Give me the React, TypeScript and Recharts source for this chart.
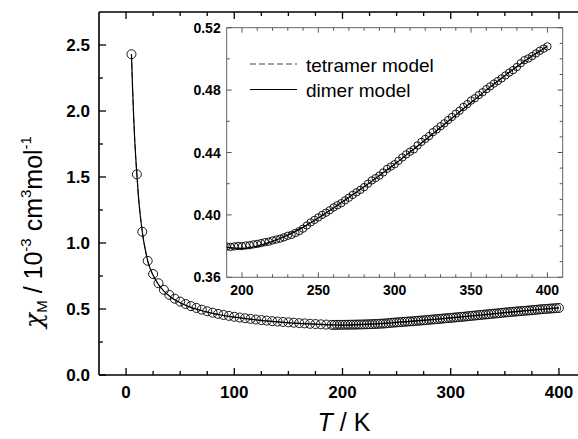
import { ComposedChart, Scatter, Line, XAxis, YAxis, ReferenceLine, ReferenceArea } from "recharts";

// measured chi_M (10^-3 cm3/mol) vs T (K)
const tempK = [
  5, 10, 15, 20, 25, 30, 35, 40, 45, 50, 55, 60, 65, 70, 75, 80, 85, 90, 95, 100,
  105, 110, 115, 120, 125, 130, 135, 140, 145, 150, 155, 160, 165, 170, 175, 180, 185,
  190, 192.5, 195, 197.5, 200, 202.5, 205, 207.5, 210, 212.5, 215, 217.5, 220, 222.5, 225, 227.5,
  230, 232.5, 235, 237.5, 240, 242.5, 245, 247.5, 250, 252.5, 255, 257.5, 260, 262.5, 265, 267.5,
  270, 272.5, 275, 277.5, 280, 282.5, 285, 287.5, 290, 292.5, 295, 297.5, 300, 302.5, 305, 307.5,
  310, 312.5, 315, 317.5, 320, 322.5, 325, 327.5, 330, 332.5, 335, 337.5, 340, 342.5, 345, 347.5,
  350, 352.5, 355, 357.5, 360, 362.5, 365, 367.5, 370, 372.5, 375, 377.5, 380, 382.5, 385, 387.5,
  390, 392.5, 395, 397.5, 400,
];
const chiObs = [
  2.43, 1.52, 1.085, 0.865, 0.765, 0.695, 0.645, 0.607, 0.578, 0.556, 0.538, 0.522, 0.508, 0.495, 0.483, 0.472, 0.463, 0.455, 0.448, 0.441,
  0.435, 0.43, 0.425, 0.42, 0.416, 0.412, 0.408, 0.405, 0.402, 0.399, 0.396, 0.393, 0.391, 0.388, 0.386, 0.384, 0.382,
  0.3797, 0.3795, 0.3798, 0.3801, 0.38, 0.3804, 0.3806, 0.3811, 0.3814, 0.3819, 0.3825, 0.3828, 0.3836, 0.3842, 0.3848, 0.3856,
  0.3866, 0.3872, 0.3884, 0.3896, 0.3912, 0.3932, 0.3952, 0.3968, 0.3984, 0.4, 0.4014, 0.403, 0.4048, 0.4062, 0.4075, 0.4093,
  0.411, 0.4128, 0.4145, 0.416, 0.4178, 0.42, 0.4221, 0.4236, 0.4252, 0.4272, 0.4295, 0.431, 0.4325, 0.4347, 0.4368, 0.4388,
  0.4405, 0.442, 0.4445, 0.4468, 0.4487, 0.4505, 0.453, 0.4548, 0.4568, 0.4587, 0.4608, 0.4628, 0.4649, 0.4668, 0.4692, 0.471,
  0.4733, 0.4748, 0.4768, 0.4786, 0.4806, 0.4824, 0.4842, 0.4858, 0.4875, 0.4894, 0.4912, 0.4928, 0.4948, 0.4972, 0.4992, 0.5003,
  0.5018, 0.5035, 0.5052, 0.5066, 0.508,
];

// model curves
const fitT = [
  5, 6, 7, 8, 9, 10, 12, 14, 16, 18, 20, 25, 30, 35, 40, 50, 60, 70, 80, 90, 100, 120, 140, 160, 180,
  190, 200, 210, 220, 230, 240, 250, 260, 270, 280, 290, 300, 310, 320, 330, 340, 350, 360, 370, 380, 390, 400,
];
const chiDimer = [
  2.43, 2.18, 1.96, 1.78, 1.64, 1.52, 1.3, 1.15, 1.03, 0.94, 0.865, 0.755, 0.685, 0.635, 0.598, 0.547, 0.512, 0.487, 0.467, 0.451, 0.438, 0.418, 0.403, 0.391, 0.383,
  0.3792, 0.3785, 0.38, 0.383, 0.387, 0.392, 0.398, 0.4045, 0.4112, 0.418, 0.4252, 0.4325, 0.4402, 0.448, 0.456, 0.464, 0.472, 0.48, 0.4876, 0.495, 0.5018, 0.508,
];
const chiTetramer = [
  2.43, 2.18, 1.96, 1.78, 1.64, 1.52, 1.3, 1.15, 1.03, 0.94, 0.865, 0.755, 0.685, 0.635, 0.598, 0.547, 0.512, 0.487, 0.467, 0.451, 0.438, 0.418, 0.403, 0.391, 0.383,
  0.3795, 0.3782, 0.3798, 0.3832, 0.3874, 0.3923, 0.3982, 0.4047, 0.4114, 0.4182, 0.4254, 0.4328, 0.4405, 0.4483, 0.4562, 0.4641, 0.4721, 0.4801, 0.4878, 0.4953, 0.5022, 0.5085,
];

const mainXTicks = [0, 25, 50, 75, 100, 125, 150, 175, 200, 225, 250, 275, 300, 325, 350, 375, 400];
const mainYTicks = [0, 0.25, 0.5, 0.75, 1, 1.25, 1.5, 1.75, 2, 2.25, 2.5];
const insetXTicks = [200, 210, 220, 230, 240, 250, 260, 270, 280, 290, 300, 310, 320, 330, 340, 350, 360, 370, 380, 390, 400];
const insetYTicks = [0.36, 0.37, 0.38, 0.39, 0.4, 0.41, 0.42, 0.43, 0.44, 0.45, 0.46, 0.47, 0.48, 0.49, 0.5, 0.51, 0.52];

const obsPoints = tempK.map((T, i) => ({ T, chi: chiObs[i] }));
const dimerPoints = fitT.map((T, i) => ({ T, chi: chiDimer[i] }));
const tetramerPoints = fitT.map((T, i) => ({ T, chi: chiTetramer[i] }));

const FONT = "'Liberation Sans', Arial, sans-serif";

// plot boxes (px)
const M_LEFT = 99, M_RIGHT = 586, M_TOP = 12, M_BOTTOM = 375;
const I_LEFT = 226.7, I_RIGHT = 562.7, I_TOP = 27.7, I_BOTTOM = 277.3;

function MainXTick({ x, payload }: any) {
  const major = payload.value % 100 === 0;
  const len = major ? 7 : 4;
  return (
    <g>
      <line x1={x} x2={x} y1={M_BOTTOM} y2={M_BOTTOM - len} stroke="#000" strokeWidth={1.3} />
      <line x1={x} x2={x} y1={M_TOP} y2={M_TOP + len} stroke="#000" strokeWidth={1.3} />
      {major && (
        <text x={x} y={M_BOTTOM + 23} textAnchor="middle" fontFamily={FONT} fontWeight="bold" fontSize={17} fill="#000">
          {payload.value}
        </text>
      )}
    </g>
  );
}

function MainYTick({ y, payload }: any) {
  const major = Math.round(payload.value * 100) % 50 === 0;
  const len = major ? 7 : 4;
  return (
    <g>
      <line x1={M_LEFT} x2={M_LEFT + len} y1={y} y2={y} stroke="#000" strokeWidth={1.3} />
      {major && (
        <text x={M_LEFT - 9} y={y + 6} textAnchor="end" fontFamily={FONT} fontWeight="bold" fontSize={17} fill="#000">
          {payload.value.toFixed(1)}
        </text>
      )}
    </g>
  );
}

function InsetXTick({ x, payload }: any) {
  const major = payload.value % 50 === 0;
  const len = major ? 5 : 3;
  return (
    <g>
      <line x1={x} x2={x} y1={I_BOTTOM} y2={I_BOTTOM - len} stroke="#555" />
      <line x1={x} x2={x} y1={I_TOP} y2={I_TOP + len} stroke="#555" />
      {major && (
        <text x={x} y={I_BOTTOM + 18} textAnchor="middle" fontFamily={FONT} fontWeight="bold" fontSize={14} fill="#000">
          {payload.value}
        </text>
      )}
    </g>
  );
}

function InsetYTick({ y, payload }: any) {
  const hund = Math.round(payload.value * 100);
  const major = hund % 4 === 0;
  const len = major ? 5 : 3;
  return (
    <g>
      {(major || hund % 2 === 0) && <line x1={I_LEFT} x2={I_LEFT + len} y1={y} y2={y} stroke="#555" />}
      <line x1={I_RIGHT} x2={I_RIGHT - len} y1={y} y2={y} stroke="#555" />
      {major && (
        <text x={I_LEFT - 6} y={y + 5} textAnchor="end" fontFamily={FONT} fontWeight="bold" fontSize={14} fill="#000">
          {payload.value.toFixed(2)}
        </text>
      )}
    </g>
  );
}

const ring = (r: number) => (p: any) => (
  <circle cx={p.cx} cy={p.cy} r={r} fill="none" stroke="#000" strokeWidth={0.9} />
);

export default function App() {
  return (
    <div style={{ position: "absolute", left: 0, top: 0, width: 578, height: 439, overflow: "hidden", background: "#fff" }}>
      <div style={{ position: "absolute", left: 0, top: 0 }}>
        <ComposedChart width={600} height={439} margin={{ top: M_TOP, right: 600 - M_RIGHT, left: M_LEFT - 60, bottom: 24 }}>
          <XAxis type="number" dataKey="T" domain={[-25, 425]} ticks={mainXTicks} interval={0}
            tick={<MainXTick />} tickLine={false} height={40} axisLine={{ stroke: "#000", strokeWidth: 1.6 }} />
          <YAxis type="number" dataKey="chi" domain={[0, 2.75]} ticks={mainYTicks} interval={0}
            tick={<MainYTick />} tickLine={false} width={60} axisLine={{ stroke: "#000", strokeWidth: 1.6 }} />
          <ReferenceLine y={2.75} stroke="#000" strokeWidth={1.6} />
          <Line data={tetramerPoints} dataKey="chi" type="monotone" stroke="#444" strokeWidth={1} strokeDasharray="6 3" dot={false} isAnimationActive={false} />
          <Line data={dimerPoints} dataKey="chi" type="monotone" stroke="#000" strokeWidth={1.2} dot={false} isAnimationActive={false} />
          <Scatter data={obsPoints} shape={ring(4.5)} isAnimationActive={false} />
        </ComposedChart>
      </div>
      <div style={{ position: "absolute", left: 0, top: 0 }}>
        <ComposedChart width={578} height={439} margin={{ top: I_TOP, right: 578 - I_RIGHT, left: I_LEFT - 40, bottom: 439 - I_BOTTOM - 30 }}>
          <ReferenceArea x1={190} x2={410} y1={0.36} y2={0.52} fill="#fff" fillOpacity={0} stroke="#666" strokeWidth={1} />
          <XAxis type="number" dataKey="T" domain={[190, 410]} allowDataOverflow ticks={insetXTicks} interval={0}
            tick={<InsetXTick />} tickLine={false} axisLine={false} height={30} />
          <YAxis type="number" dataKey="chi" domain={[0.36, 0.52]} allowDataOverflow ticks={insetYTicks} interval={0}
            tick={<InsetYTick />} tickLine={false} axisLine={false} width={40} />
          <Line data={tetramerPoints.filter((d) => d.T >= 180)} dataKey="chi" type="monotone" stroke="#444" strokeWidth={1} strokeDasharray="6 3" dot={false} isAnimationActive={false} />
          <Line data={dimerPoints.filter((d) => d.T >= 180)} dataKey="chi" type="monotone" stroke="#000" strokeWidth={1.2} dot={false} isAnimationActive={false} />
          <Scatter data={obsPoints.filter((d) => d.T >= 190)} shape={ring(3.7)} isAnimationActive={false} />
        </ComposedChart>
      </div>
      <svg width={578} height={439} style={{ position: "absolute", left: 0, top: 0, pointerEvents: "none" }}>
        <line x1={250} x2={297} y1={64} y2={64} stroke="#444" strokeWidth={1} strokeDasharray="6 3" />
        <text x={306} y={72} fontFamily={FONT} fontSize={19} fill="#000">tetramer model</text>
        <line x1={250} x2={297} y1={89.5} y2={89.5} stroke="#000" strokeWidth={1.2} />
        <text x={306} y={97} fontFamily={FONT} fontSize={19} fill="#000">dimer model</text>
        <text x={344} y={431} textAnchor="middle" fontFamily={FONT} fontSize={25} fill="#000" style={{ whiteSpace: "pre" }}>
          <tspan fontStyle="italic">T</tspan> / K
        </text>
        <text transform="translate(42,232) rotate(-90)" textAnchor="middle" fontFamily={FONT} fontSize={25} fill="#000" style={{ whiteSpace: "pre" }}>
          <tspan fontStyle="italic" fontFamily="'DejaVu Serif', serif">χ</tspan>
          <tspan fontSize={15} dy={5}>M</tspan>
          <tspan dy={-5}> / 10</tspan>
          <tspan fontSize={15} dy={-11}>-3</tspan>
          <tspan dy={11}> cm</tspan>
          <tspan fontSize={15} dy={-11}>3</tspan>
          <tspan dy={11}>mol</tspan>
          <tspan fontSize={15} dy={-11}>-1</tspan>
        </text>
      </svg>
    </div>
  );
}
